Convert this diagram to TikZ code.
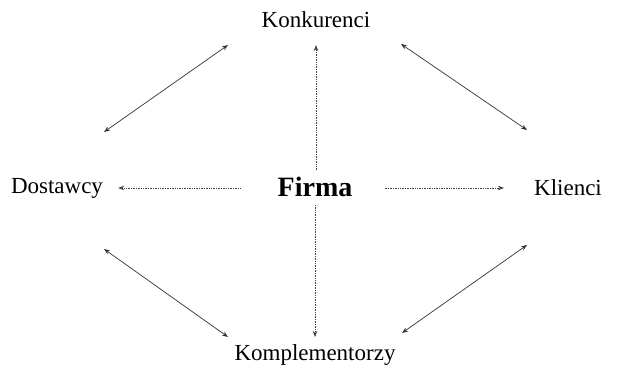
\documentclass[tikz,border=0pt]{standalone}
\usepackage{fontspec}
\setmainfont{Liberation Serif}
\usetikzlibrary{arrows.meta}
\begin{document}
\begin{tikzpicture}[x=1pt,y=-1pt,
  lbl/.style={inner sep=0pt,font=\fontsize{23}{27}\selectfont},
  main/.style={inner sep=0pt,font=\fontsize{28}{32}\selectfont\bfseries},
  tip/.style={-{Stealth[length=6pt,width=4.5pt]}},
  link/.style={tip,draw=black!75,line width=0.7pt,densely dotted},
  dbl/.style={{Stealth[length=6pt,width=4.5pt]}-{Stealth[length=6pt,width=4.5pt]},draw=black!80,line width=0.7pt}]
\useasboundingbox (0,0) rectangle (617,369);
\node[lbl] (konk) at (316,20) {Konkurenci};
\node[lbl] (dost) at (57,188) {Dostawcy};
\node[main] (firma) at (315,187) {Firma};
\node[lbl] (kli) at (568,188) {Klienci};
\node[lbl] (komp) at (315,355) {Komplementorzy};
\coordinate (a1) at (228,45);
\coordinate (a2) at (104,132);
\coordinate (b1) at (401,44);
\coordinate (b2) at (527,130);
\coordinate (c1) at (104,249);
\coordinate (c2) at (228,337);
\coordinate (d1) at (527,245);
\coordinate (d2) at (402,333);
\draw[link] (firma.north -| konk.south) ++(0,-7) coordinate (f1) -- (f1 |- 0,45) coordinate (k1);
\draw[link,shorten <=8pt] (firma.south) -- (firma.south |- 0,337);
\draw[link] ([xshift=-37pt]firma.west |- dost.center) -- ([xshift=15pt]dost.east);
\draw[link] ([xshift=32pt]firma.east |- kli.center) -- ([xshift=-30pt]kli.west);
\draw[dbl] (a1) -- (a2);
\draw[dbl] (b1) -- (b2);
\draw[dbl] (c1) -- (c2);
\draw[dbl] (d1) -- (d2);
\end{tikzpicture}
\end{document}
